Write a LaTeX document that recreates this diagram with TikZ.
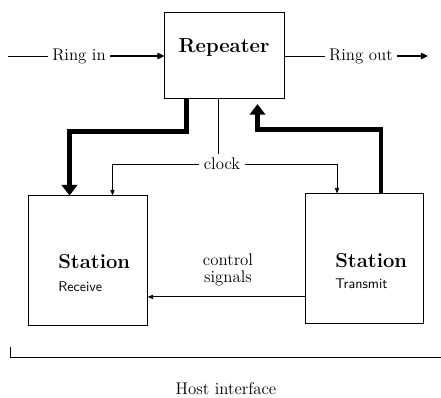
\documentclass[tikz,border=0pt]{standalone}
\usepackage{tikz}
\usetikzlibrary{
  arrows.meta,
  positioning,
  calc
}

\begin{document}
\begin{tikzpicture}[
    x=0.025cm,
    y=-0.025cm,
    caixa/.style={
        draw,
        line width=0.7pt,
        minimum width=2.95cm,
        minimum height=3.225cm
    },
    titulo/.style={
        font=\Large\bfseries,
        inner sep=0pt
    },
    sub/.style={
        font=\sffamily,
        inner sep=0pt
    },
    rotulo/.style={
        font=\large,
        inner sep=3pt
    },
    linha/.style={
        line width=0.7pt
    },
    anel/.style={
        -{Triangle[length=5pt,width=4.5pt]},
        line width=1pt
    },
    fio/.style={
        -{Triangle[length=4pt,width=3pt]},
        line width=0.6pt
    },
    barra/.style={
        -{Triangle[length=7.5pt,width=11pt]},
        line width=3.4pt
    }
]

\useasboundingbox (0,0) rectangle (441,397);

% ============================================================
% BLOCOS
% ============================================================

\node[caixa, minimum width=2.975cm, minimum height=2.15cm] (rep) at (224.5,55) {};
\node[titulo] (trep) at (224,48) {Repeater};

\node[caixa] (recv) at (88,260.5) {};
\node[titulo, anchor=base west] (trecv) at (58,268) {Station};
\node[sub, anchor=base west] (srecv) at (58,291) {Receive};

\node[caixa] (trans) at (364.5,258.5) {};
\node[titulo, anchor=base west] (ttrans) at (335,267) {Station};
\node[sub, anchor=base west] (strans) at (335,288) {Transmit};

% ============================================================
% ANEL
% ============================================================

\coordinate (ini) at (8,56);
\coordinate (fim) at (428,56);

\node[rotulo] (ringin) at (79,56) {Ring in};
\node[rotulo] (ringout) at (361,56) {Ring out};

\draw[linha] (ini) -- (ringin);
\draw[anel] (ringin) -- (rep.west |- ringin);
\draw[linha] (rep.east |- ringout) -- (ringout);
\draw[anel] (ringout) -- (fim);

% ============================================================
% DADOS
% ============================================================

\draw[barra]
($(rep.south west)+(22,0)$) -- ++(0,33)
-| ($(recv.north west)+(41,0)$);

\draw[barra, shorten >=4pt]
($(trans.north west)+(76,0)$) -- ++(0,-64)
-| ($(rep.south west)+(93,0)$);

% ============================================================
% CLOCK
% ============================================================

\node[rotulo] (clk) at (222,164) {clock};
\coordinate (clkA) at ($(rep.south west)+(54,0)$);

\draw[linha, line width=0.6pt] (clkA) -- (clkA |- clk.north);
\draw[fio] (clk.west) -| ($(recv.north west)+(84,0)$);
\draw[fio] (clk.east) -| ($(trans.north west)+(32,0)$);

% ============================================================
% CONTROLE
% ============================================================

\node[rotulo, align=center] (ctrl) at (228,270) {control\\[-2pt]signals};

\draw[fio] ([yshift=-0.96cm]trans.west) coordinate (cs) -- (recv.east |- cs);

% ============================================================
% HOST
% ============================================================

\coordinate (hostA) at (10,347);
\coordinate (hostB) at (441,357);

\draw[linha] (hostA) |- (hostB);

\node[rotulo] (host) at (226,389) {Host interface};

\end{tikzpicture}
\end{document}
